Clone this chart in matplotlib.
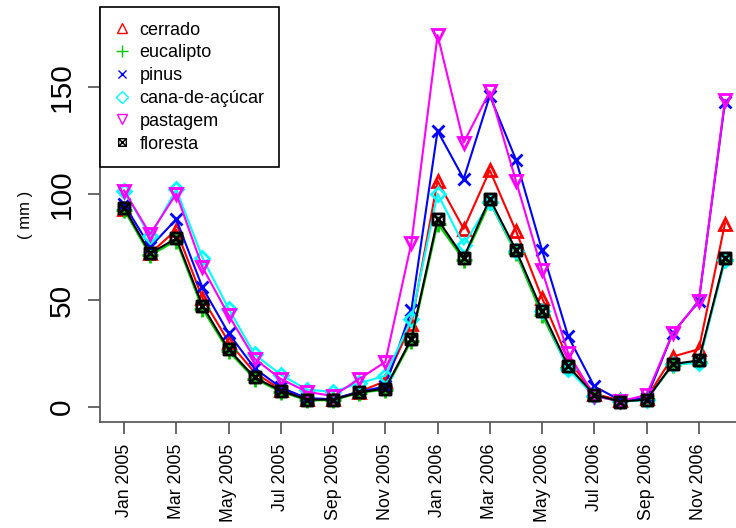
import numpy as np
import matplotlib
matplotlib.use("Agg")
import matplotlib.pyplot as plt
from matplotlib.path import Path
from matplotlib.lines import Line2D

plt.rcParams['font.family'] = ['Liberation Sans', 'DejaVu Sans']

# months Jan 2005 .. Dec 2006
meses = ['Jan 2005', 'Feb 2005', 'Mar 2005', 'Apr 2005', 'May 2005', 'Jun 2005',
         'Jul 2005', 'Aug 2005', 'Sep 2005', 'Oct 2005', 'Nov 2005', 'Dec 2005',
         'Jan 2006', 'Feb 2006', 'Mar 2006', 'Apr 2006', 'May 2006', 'Jun 2006',
         'Jul 2006', 'Aug 2006', 'Sep 2006', 'Oct 2006', 'Nov 2006', 'Dec 2006']

cerrado = [93, 72, 83, 51, 30.5, 16, 8, 3.5, 3.5, 7, 12, 39,
           106, 83.5, 111, 82.5, 51, 22, 6, 3, 4, 23.5, 27, 86]
eucalipto = [92.5, 71, 78, 46, 26, 13, 7, 3, 3, 6.5, 8, 31,
             86, 69, 96, 72, 43, 18, 5, 2.5, 3.5, 19.5, 21, 69]
pinus = [95, 75, 88, 56, 34.5, 18, 9, 4, 3.5, 7, 9.5, 45.5,
         129.5, 107, 146, 116, 73.5, 33, 9.5, 3, 4, 34.5, 49.5, 143]
cana = [101.5, 80, 102, 70, 46, 24.5, 15, 8, 7, 11, 14.5, 41,
        100, 76, 96, 73, 45, 17.5, 5, 2.5, 3, 20, 20.5, 69]
pastagem = [101.5, 81, 100, 65.5, 43, 22.5, 13, 7, 5, 13, 21, 77,
            174.5, 124, 148, 106, 64, 25, 5, 2.5, 5.5, 34.5, 49.5, 144]
floresta = [93.5, 72, 79, 47.5, 27, 13.7, 7.5, 3.3, 3.3, 6.7, 8.5, 32,
            88, 70, 97.6, 73.6, 45, 19, 5.6, 2.4, 3.3, 20, 21.7, 70]

nomes = ['cerrado', 'eucalipto', 'pinus', 'cana-de-açúcar', 'pastagem', 'floresta']
series = [cerrado, eucalipto, pinus, cana, pastagem, floresta]
cores = ['#FF0000', '#00CD00', '#0000FF', '#00FFFF', '#FF00FF', '#000000']

# square with an x inside (R pch 7)
sqx = Path([(-1, -1), (1, -1), (1, 1), (-1, 1), (-1, -1),
            (-1, -1), (1, 1), (-1, 1), (1, -1)],
           [Path.MOVETO, Path.LINETO, Path.LINETO, Path.LINETO, Path.CLOSEPOLY,
            Path.MOVETO, Path.LINETO, Path.MOVETO, Path.LINETO])
marcadores = ['^', '+', 'x', 'D', 'v', sqx]
tam = [9, 11, 8, 7, 9, 8]
tam_leg = [7, 9, 6, 6, 7, 5.5]

x = np.arange(len(meses))

fig = plt.figure(figsize=(7.36, 5.28), dpi=100)
ax = fig.add_axes([100/736, 106/528, 649/736, 414/528])

for i in range(len(series)):
    ax.plot(x, series[i], color=cores[i], lw=1.5, marker=marcadores[i],
            ms=tam[i], mew=2, fillstyle='none', zorder=2 + i)

ax.set_xlim(-0.92, 23.92)
ax.set_ylim(-7.2, 187.2)

ax.set_xticks(x[::2])
ax.set_xticklabels(meses[::2], rotation=90, fontsize=12.8)
ax.set_yticks([0, 50, 100, 150])
ax.set_yticklabels(['0', '50', '100', '150'], rotation=90, va='center', fontsize=21.5)

ax.spines['top'].set_visible(False)
ax.spines['right'].set_visible(False)
for s in ['left', 'bottom']:
    ax.spines[s].set_color('#505050')
    ax.spines[s].set_linewidth(1.2)
ax.tick_params(axis='both', length=8.5, width=1.2, color='#505050')
ax.tick_params(axis='x', pad=7)
ax.tick_params(axis='y', pad=9)

ax.set_ylabel('( mm )', fontsize=12)
ax.yaxis.set_label_coords(-0.103, 0.5)

handles = [Line2D([], [], color=cores[i], marker=marcadores[i], ls='none',
                  ms=tam_leg[i], mew=1, fillstyle='none') for i in range(len(series))]
leg = ax.legend(handles, nomes, loc='upper left', bbox_to_anchor=(0, 1.002),
                borderaxespad=0, fontsize=13, fancybox=False, framealpha=1,
                edgecolor='black', handlelength=0.8, handletextpad=0.6,
                labelspacing=0.32, borderpad=0.8)
leg.get_frame().set_linewidth(1.2)
leg.set_zorder(20)

plt.savefig('out.png', dpi=100)
